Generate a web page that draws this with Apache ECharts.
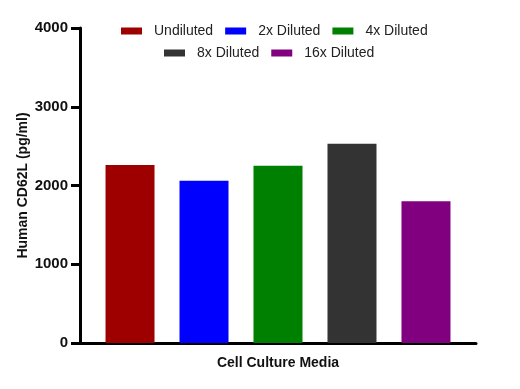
<!DOCTYPE html>
<html><head><meta charset="utf-8">
<script src="https://cdn.jsdelivr.net/npm/echarts@6/dist/echarts.min.js"></script>
<style>html,body{margin:0;padding:0;background:#fff}#c{width:520px;height:389px}</style>
</head><body><div id="c"></div>
<script>
const categories = ['Cell Culture Media'];
const seriesNames = ['Undiluted', '2x Diluted', '4x Diluted', '8x Diluted', '16x Diluted'];
const seriesValues = [2260, 2060, 2250, 2530, 1800];
const seriesColors = ['#9E0000', '#0000FF', '#008000', '#333333', '#800080'];
const yTicks = [0, 1000, 2000, 3000, 4000];

const chart = echarts.init(document.getElementById('c'), null, {renderer: 'canvas'});
const font = 'Arial, "Liberation Sans", sans-serif';
const series = seriesNames.map((n, i) => ({
  name: n, type: 'bar', data: [seriesValues[i]],
  barWidth: 49, barGap: '51%',
  itemStyle: {color: seriesColors[i]}
}));
const legendText = {fontSize: 14, color: '#222', fontFamily: font, padding: [0, 0, 0, 7]};
chart.setOption({
  animation: false,
  textStyle: {fontFamily: font},
  legend: [
    {data: seriesNames.slice(0, 3), left: 121, top: 24, padding: 0, itemWidth: 21, itemHeight: 7, itemGap: 12,
     textStyle: legendText, icon: 'rect'},
    {data: seriesNames.slice(3), left: 164, top: 46, padding: 0, itemWidth: 21, itemHeight: 7, itemGap: 12,
     textStyle: legendText, icon: 'rect'}
  ],
  grid: {left: 80, right: 44, top: 28, bottom: 46, containLabel: false},
  xAxis: {
    type: 'category', data: categories,
    name: categories[0], nameLocation: 'middle', nameGap: 13, nameMoveOverlap: false,
    nameTextStyle: {fontSize: 14, fontWeight: 'bold', color: '#111', fontFamily: font},
    axisLine: {lineStyle: {color: '#000', width: 3}},
    axisTick: {alignWithLabel: true, length: 8, lineStyle: {color: '#000', width: 3}},
    axisLabel: {show: false}
  },
  yAxis: {
    type: 'value', min: yTicks[0], max: yTicks[yTicks.length - 1], interval: 1000,
    name: 'Human CD62L (pg/ml)', nameLocation: 'middle', nameGap: 50, nameRotate: 90, nameMoveOverlap: false,
    nameTextStyle: {fontSize: 14, fontWeight: 'bold', color: '#111', fontFamily: font},
    axisLine: {show: true, lineStyle: {color: '#000', width: 3}},
    axisTick: {show: true, length: 9, lineStyle: {color: '#000', width: 3}},
    axisLabel: {fontSize: 15, fontWeight: 'bold', color: '#111', margin: 12, fontFamily: font,
                formatter: v => String(v)},
    splitLine: {show: false}
  },
  series: series
});
</script></body></html>
